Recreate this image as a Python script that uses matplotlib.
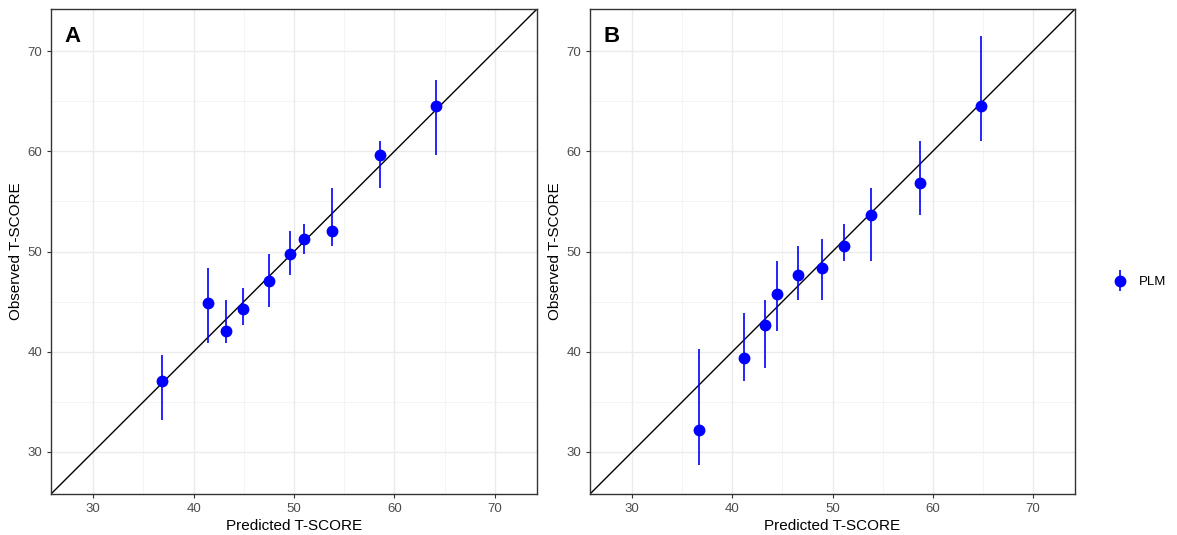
import numpy as np
import matplotlib.pyplot as plt
from matplotlib.legend_handler import HandlerErrorbar

plt.rcParams['font.family'] = ['Liberation Sans', 'DejaVu Sans']

# ------------------ Datos ------------------
pred_a = [36.85, 41.4, 43.26, 44.9, 47.5, 49.6, 51.0, 53.8, 58.6, 64.1]
obs_a = [37.1, 44.85, 42.1, 44.25, 47.1, 49.8, 51.2, 52.0, 59.65, 64.5]
low_a = [33.2, 40.9, 40.9, 42.7, 44.5, 47.7, 49.8, 50.5, 56.35, 59.6]
high_a = [39.66, 48.4, 45.2, 46.4, 49.8, 52.0, 52.7, 56.3, 61.0, 67.1]

pred_b = [36.7, 41.17, 43.26, 44.5, 46.6, 48.97, 51.1, 53.85, 58.7, 64.85]
obs_b = [32.2, 39.36, 42.7, 45.8, 47.7, 48.4, 50.5, 53.6, 56.8, 64.5]
low_b = [28.7, 37.1, 38.4, 42.1, 45.2, 45.2, 49.1, 49.1, 53.6, 61.05]
high_b = [40.3, 43.9, 45.2, 49.1, 50.5, 51.2, 52.7, 56.3, 61.0, 71.5]

LIMS = (25.8, 74.2)
MAJOR = [30, 40, 50, 60, 70]
MINOR = [35, 45, 55, 65]

fig = plt.figure(figsize=(11.77, 5.35), dpi=100)
W, H = 1177, 535
ax_a = fig.add_axes([51 / W, 1 - 494 / H, 486 / W, 485 / H])
ax_b = fig.add_axes([590 / W, 1 - 494 / H, 485 / W, 485 / H])


def panel(ax, pred, obs, low, high, letter):
    pred = np.array(pred)
    obs = np.array(obs)
    err = [obs - np.array(low), np.array(high) - obs]
    ax.set_xlim(LIMS)
    ax.set_ylim(LIMS)
    ax.set_xticks(MAJOR)
    ax.set_yticks(MAJOR)
    ax.set_xticks(MINOR, minor=True)
    ax.set_yticks(MINOR, minor=True)
    ax.grid(True, which='major', color='#ebebeb', lw=1.0)
    ax.grid(True, which='minor', color='#f2f2f2', lw=0.6)
    ax.tick_params(which='minor', length=0)
    ax.tick_params(which='major', length=3, width=0.8, color='#333333',
                   labelsize=9.5, labelcolor='#4d4d4d')
    ax.set_axisbelow(True)
    for s in ax.spines.values():
        s.set_color('#333333')
        s.set_linewidth(1.0)
    ax.plot(LIMS, LIMS, color='black', lw=1.0, zorder=2)
    eb = ax.errorbar(pred, obs, yerr=err, fmt='o', color='blue', ecolor='blue',
                     elinewidth=1.2, markersize=7.5, capsize=0, zorder=3)
    ax.set_xlabel('Predicted T-SCORE', fontsize=11, labelpad=3)
    ax.set_ylabel('Observed T-SCORE', fontsize=11, labelpad=3)
    ax.text(0.028, 0.965, letter, transform=ax.transAxes, fontsize=16,
            fontweight='bold', va='top', ha='left')
    return eb


panel(ax_a, pred_a, obs_a, low_a, high_a, 'A')
eb = panel(ax_b, pred_b, obs_b, low_b, high_b, 'B')

fig.legend([eb], ['PLM'], loc='center left', bbox_to_anchor=(1102 / W, 1 - 282 / H),
           frameon=False, fontsize=9.5, handlelength=1.0, handletextpad=0.9,
           handler_map={type(eb): HandlerErrorbar(yerr_size=0.8)})

fig.savefig('out.png', dpi=100)
